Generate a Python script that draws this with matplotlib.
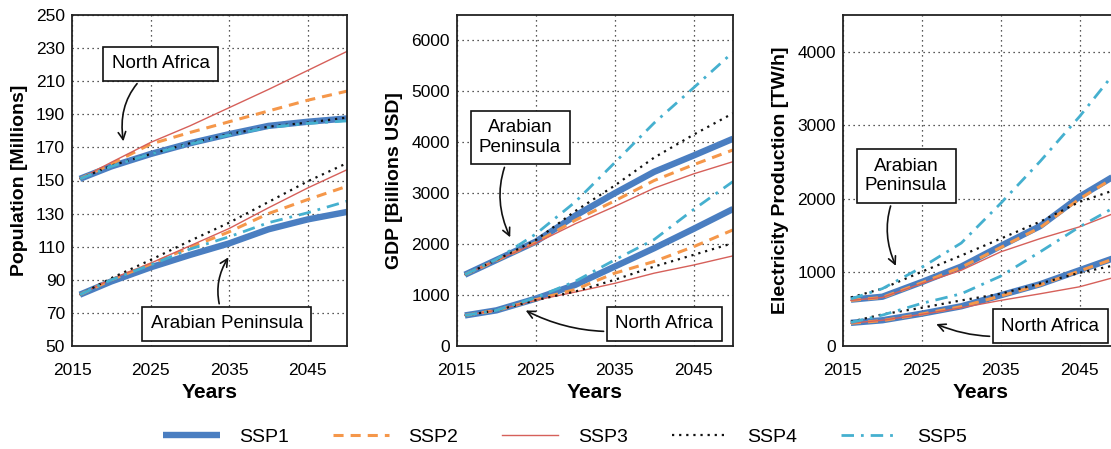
import matplotlib
matplotlib.use("Agg")
import matplotlib.pyplot as plt

plt.rcParams["font.family"] = ["Liberation Sans", "DejaVu Sans"]

years = [2016, 2020, 2025, 2030, 2035, 2040, 2045, 2050]
scenarios = ["SSP1", "SSP2", "SSP3", "SSP4", "SSP5"]

# population [millions], one row per scenario (SSP1..SSP5)
pop_na = [
    [151, 158.5, 166, 172.5, 178, 183, 185.5, 187.5],
    [151, 160, 172, 179, 185.5, 192, 198.5, 204],
    [151, 161, 173, 183, 194, 205, 216.5, 228],
    [151, 159, 166, 172.5, 178, 182.5, 185, 188],
    [151, 158.5, 166, 172, 177.5, 182, 184.5, 186],
]
pop_ap = [
    [81, 89, 97.5, 105, 112, 120.5, 126.5, 131],
    [81, 90, 99.5, 109.5, 119, 130, 138.5, 146.5],
    [81, 90.5, 100, 110.5, 121, 133.5, 145.5, 156.5],
    [81, 91, 102, 113.5, 124.5, 137, 149.5, 160.5],
    [81, 90, 99, 108.5, 116, 124.5, 130.5, 137.5],
]

# GDP [billions USD]
gdp_na = [
    [600, 700, 930, 1200, 1560, 1920, 2300, 2690],
    [600, 700, 910, 1110, 1430, 1660, 1950, 2280],
    [600, 700, 900, 1060, 1230, 1430, 1590, 1770],
    [600, 700, 900, 1070, 1300, 1560, 1790, 2020],
    [600, 700, 950, 1270, 1690, 2090, 2680, 3230],
]
gdp_ap = [
    [1400, 1690, 2050, 2560, 3000, 3420, 3740, 4070],
    [1400, 1680, 2030, 2470, 2850, 3250, 3560, 3850],
    [1400, 1680, 2020, 2400, 2740, 3100, 3380, 3620],
    [1400, 1690, 2080, 2650, 3150, 3700, 4150, 4570],
    [1400, 1700, 2200, 2830, 3600, 4380, 5070, 5770],
]

# electricity production [TW/h]
elec_na = [
    [315, 350, 440, 540, 690, 840, 1030, 1220],
    [310, 345, 435, 535, 680, 830, 1020, 1210],
    [310, 350, 430, 520, 620, 710, 805, 950],
    [330, 430, 520, 620, 710, 850, 995, 1110],
    [320, 420, 580, 710, 950, 1280, 1620, 1920],
]
elec_ap = [
    [630, 670, 870, 1080, 1360, 1630, 2030, 2350],
    [620, 660, 860, 1070, 1340, 1610, 2000, 2330],
    [620, 660, 850, 1030, 1280, 1460, 1620, 1830],
    [660, 780, 1010, 1230, 1460, 1690, 1960, 2140],
    [640, 780, 1070, 1400, 1940, 2510, 3120, 3790],
]

styles = [
    dict(color="#4A7EC1", lw=4.6, ls="-", solid_capstyle="butt"),
    dict(color="#F5974A", lw=2.2, ls=(0, (3.3, 2.3))),
    dict(color="#D6605A", lw=1.0, ls="-"),
    dict(color="#111111", lw=1.6, ls=(0, (1, 2.2))),
    dict(color="#45B0CF", lw=2.0, ls=(0, (4.5, 2.5, 1, 2.5))),
]

fig = plt.figure(figsize=(11.11, 4.49), dpi=100)
H = 331 / 449
B = 1 - 346 / 449
ax1 = fig.add_axes([72 / 1111, B, 275 / 1111, H])
ax2 = fig.add_axes([457 / 1111, B, 276 / 1111, H])
ax3 = fig.add_axes([843 / 1111, B, 276 / 1111, H])

panels = [
    (ax1, pop_na, pop_ap, "Population [Millions]", (50, 250), range(50, 251, 20)),
    (ax2, gdp_na, gdp_ap, "GDP [Billions USD]", (0, 6500), range(0, 6001, 1000)),
    (ax3, elec_na, elec_ap, "Electricity Production [TW/h]", (0, 4500),
     range(0, 4001, 1000)),
]

for ax, na, ap, ylabel, ylim, yticks in panels:
    for i in range(5):
        ax.plot(years, na[i], label=scenarios[i], **styles[i])
        ax.plot(years, ap[i], **styles[i])
    ax.set_xlim(2015, 2050)
    ax.set_ylim(*ylim)
    ax.set_xticks([2015, 2025, 2035, 2045])
    ax.set_yticks(list(yticks))
    ax.grid(True, color="#222222", ls=(0, (1, 3)), lw=0.9)
    ax.tick_params(length=0, labelsize=12.5)
    ax.tick_params(axis="x", pad=12)
    ax.tick_params(axis="y", pad=5)
    for sp in ax.spines.values():
        sp.set_linewidth(1.3)
        sp.set_color("#222222")
    ax.set_xlabel("Years", fontsize=15, fontweight="bold", labelpad=4)
    ax.set_ylabel(ylabel, fontsize=14, fontweight="bold", labelpad=6)

box = dict(boxstyle="square,pad=0.45", fc="white", ec="#111111", lw=1.2)
arrow = dict(arrowstyle="->", color="#111111", lw=1.2)


def label(ax, text, xy, xytext, rad):
    ax.annotate(text, xy=xy, xytext=xytext, ha="center", va="center",
                fontsize=13.5, bbox=box,
                arrowprops=dict(arrow, connectionstyle=f"arc3,rad={rad}"))


label(ax1, "North Africa", (2021.6, 172), (2026.3, 220.4), 0.35)
label(ax1, "Arabian Peninsula", (2035.1, 105), (2034.7, 63.3), -0.3)
label(ax2, "Arabian\nPeninsula", (2021.9, 2085), (2023.0, 4096), 0.3)
label(ax2, "North Africa", (2023.4, 722), (2041.3, 439), -0.2)
label(ax3, "Arabian\nPeninsula", (2021.85, 1055), (2023.0, 2311), 0.3)
label(ax3, "North Africa", (2026.5, 313), (2041.3, 266), -0.2)

handles, labels = ax1.get_legend_handles_labels()
fig.legend(handles, labels, loc="center", ncol=5, frameon=False,
           bbox_to_anchor=(565 / 1111, 1 - 437 / 449), fontsize=14,
           handlelength=2.9, handletextpad=1.0, columnspacing=2.25)

fig.savefig("out.png", dpi=100)
